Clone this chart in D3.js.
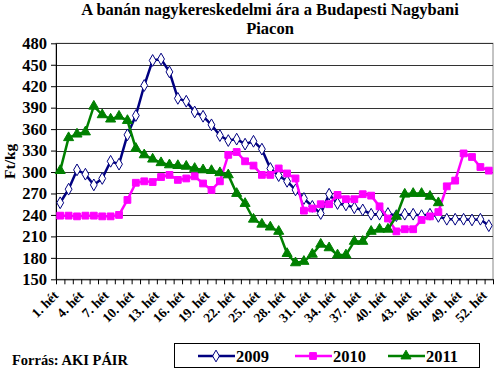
<!DOCTYPE html>
<html>
<head>
<meta charset="utf-8">
<script src="https://cdn.jsdelivr.net/npm/d3@7"></script>
<style>
  body { margin: 0; background: #fff; }
  svg { display: block; }
  text { font-family: "Liberation Serif", "Times New Roman", serif; font-weight: bold; }
</style>
</head>
<body>
<svg id="chart"></svg>
<script>
// weekly prices, Ft/kg
const weeks = d3.range(1, 53)
const yTicks = [150, 180, 210, 240, 270, 300, 330, 360, 390, 420, 450, 480]
const labelWeeks = [1, 4, 7, 10, 13, 16, 19, 22, 25, 28, 31, 34, 37, 40, 43, 46, 49, 52]

const y2009 = [257, 276, 303, 297, 282, 291, 315, 311, 352, 379,
    421, 456, 458, 440, 403, 399, 384, 378, 366, 351,
    344, 346, 339, 343, 332, 305, 295, 287, 275, 263,
    252, 242, 269, 256, 254, 250, 247, 241, 241, 242,
    239, 241, 241, 239, 241, 238, 234, 234, 234, 233,
    234, 225]
const y2010 = [239, 239, 238, 239, 239, 238, 238, 240, 261, 285,
    287, 286, 293, 296, 289, 291, 294, 284, 275, 287,
    324, 328, 315, 309, 296, 296, 305, 298, 291, 246,
    249, 255, 255, 268, 262, 262, 269, 267, 252, 235,
    217, 220, 220, 233, 238, 244, 280, 288, 326, 321,
    307, 302]
const y2011 = [302, 348, 353, 356, 392, 380, 374, 378, 372, 333,
    324, 318, 313, 310, 309, 308, 305, 303, 302, 299,
    296, 270, 256, 234, 227, 223, 217, 186, 173, 175,
    185, 199, 194, 184, 184, 203, 203, 217, 220, 220,
    238, 269, 270, 270, 266, 257]

const series = [
    {name: '2009', values: y2009, color: '#000080', symbol: d3.symbolDiamond, fill: '#fff', size: 40},
    {name: '2010', values: y2010, color: '#ff00ff', symbol: d3.symbolSquare, fill: '#ff00ff', size: 46},
    {name: '2011', values: y2011, color: '#008000', symbol: d3.symbolTriangle, fill: '#008000', size: 44}
]

const W = 500, H = 373
const svg = d3.select('#chart').attr('width', W).attr('height', H)

const margin = {left: 56, right: 7, top: 43.3, bottom: 93.7}
const plotRight = W - margin.right
const plotBottom = H - margin.bottom

const x = d3.scaleLinear().domain([0, 52]).range([margin.left, plotRight])
const y = d3.scaleLinear().domain([150, 480]).range([plotBottom, margin.top])
const xc = i => x(i + 0.5)   // centre of category i (0-based)

// title
svg.append('text').attr('x', 270).attr('y', 15).attr('text-anchor', 'middle')
    .style('font-size', '16.5px').text('A banán nagykereskedelmi ára a Budapesti Nagybani')
svg.append('text').attr('x', 270).attr('y', 34).attr('text-anchor', 'middle')
    .style('font-size', '16.5px').text('Piacon')

// plot border + gridlines
svg.append('rect').attr('x', margin.left).attr('y', margin.top)
    .attr('width', plotRight - margin.left).attr('height', plotBottom - margin.top)
    .attr('fill', 'none').attr('stroke', '#888').attr('stroke-width', 1)

svg.append('g').selectAll('line').data(yTicks.filter(d => d > 150)).enter().append('line')
    .attr('x1', margin.left).attr('x2', plotRight)
    .attr('y1', d => Math.round(y(d)) + 0.5).attr('y2', d => Math.round(y(d)) + 0.5)
    .attr('stroke', '#333').attr('stroke-width', 1)

// y axis
const yAxis = svg.append('g').attr('transform', `translate(${margin.left},0)`)
    .call(d3.axisLeft(y).tickValues(yTicks).tickSize(5).tickSizeOuter(0).tickPadding(4))
yAxis.select('.domain').attr('stroke', '#000')
yAxis.selectAll('text').style('font-size', '16.5px').style('font-family', '"Liberation Serif", serif')
    .style('font-weight', 'bold').attr('fill', '#000')

svg.append('text').attr('transform', `translate(15,${(margin.top + plotBottom) / 2}) rotate(-90)`)
    .attr('text-anchor', 'middle').style('font-size', '15.5px').text('Ft/kg')

// x axis
const xAxis = svg.append('g').attr('transform', `translate(0,${plotBottom})`)
    .call(d3.axisBottom(x).tickValues(d3.range(0, 53)).tickFormat('').tickSize(5).tickSizeOuter(0))
xAxis.select('.domain').attr('stroke', '#000')

svg.append('g').selectAll('text').data(labelWeeks).enter().append('text')
    .attr('transform', d => `translate(${xc(d - 1) - 1},${plotBottom + 17}) rotate(-45)`)
    .attr('text-anchor', 'end').style('font-size', '13.5px')
    .text(d => `${d}. hét`)

// lines and markers
const line = d3.line().x((d, i) => xc(i)).y(d => y(d))

series.forEach(s => {
    svg.append('path').datum(s.values)
        .attr('d', line).attr('fill', 'none')
        .attr('stroke', s.color).attr('stroke-width', 2.5)
    svg.append('g').selectAll('path').data(s.values).enter().append('path')
        .attr('transform', (d, i) => `translate(${xc(i)},${y(d)})`)
        .attr('d', d3.symbol().type(s.symbol).size(s.size))
        .attr('fill', s.fill).attr('stroke', s.color).attr('stroke-width', 1)
})

// legend
const legend = svg.append('g')
legend.append('rect').attr('x', 174.5).attr('y', 343.5).attr('width', 305).attr('height', 24)
    .attr('fill', '#fff').attr('stroke', '#000')
const legendX = [198, 295, 388]
series.forEach((s, k) => {
    const lx = legendX[k]
    legend.append('line').attr('x1', lx).attr('x2', lx + 37).attr('y1', 356).attr('y2', 356)
        .attr('stroke', s.color).attr('stroke-width', 2.5)
    legend.append('path').attr('transform', `translate(${lx + 18},356)`)
        .attr('d', d3.symbol().type(s.symbol).size(s.size))
        .attr('fill', s.fill).attr('stroke', s.color)
    legend.append('text').attr('x', lx + 38).attr('y', 362)
        .style('font-size', '16.5px').text(s.name)
})

svg.append('text').attr('x', 12).attr('y', 365).style('font-size', '14.5px').text('Forrás: AKI PÁIR')
</script>
</body>
</html>
